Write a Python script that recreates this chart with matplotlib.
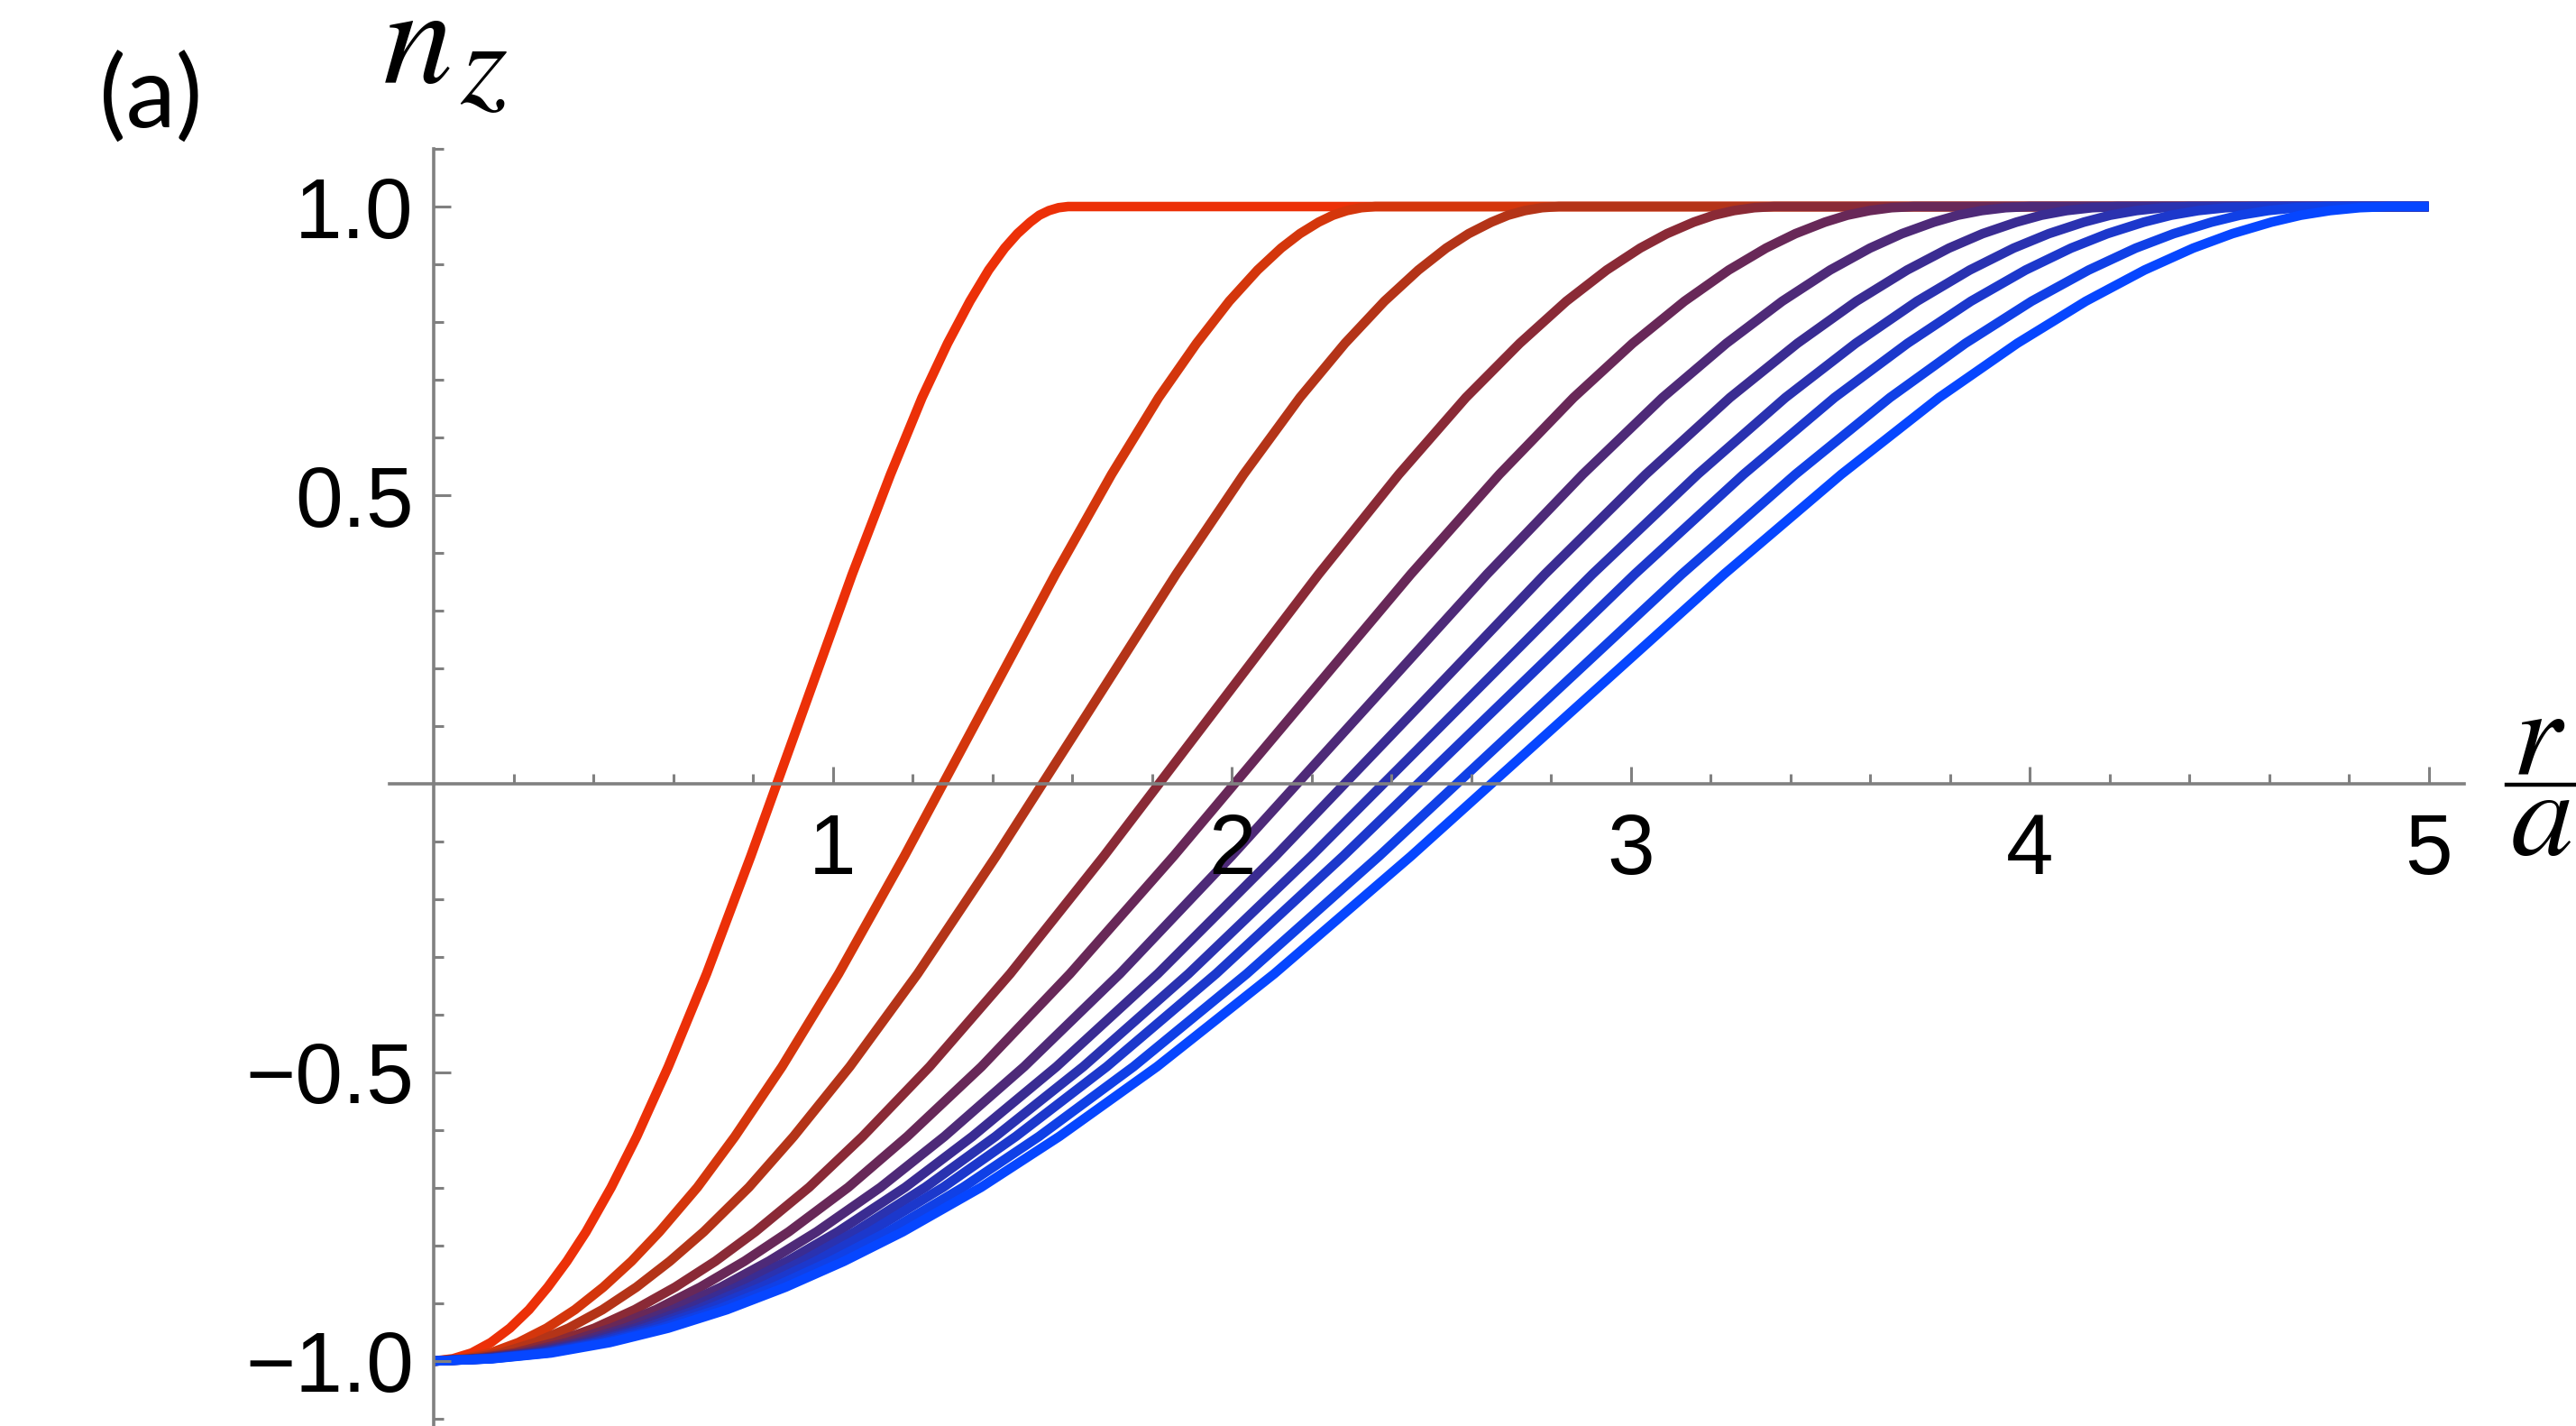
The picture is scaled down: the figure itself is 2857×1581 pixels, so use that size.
import matplotlib
matplotlib.use('Agg')
import matplotlib.pyplot as plt
from matplotlib.lines import Line2D
import numpy as np

nz_levels = [-1.0, -0.996, -0.986, -0.968, -0.943, -0.911, -0.872, -0.827,
             -0.776, -0.699, -0.611, -0.490, -0.329, -0.125, 0.119, 0.363,
             0.536, 0.669, 0.763, 0.836, 0.890, 0.928, 0.953, 0.973, 0.985,
             0.993, 0.998, 1.0]

# r/a where each curve passes those levels (red first, blue last)
r_c1 = [0, 0.048, 0.095, 0.143, 0.191, 0.239, 0.286, 0.334, 0.382, 0.445,
        0.509, 0.588, 0.684, 0.795, 0.922, 1.049, 1.145, 1.224, 1.288, 1.344,
        1.391, 1.431, 1.463, 1.495, 1.518, 1.542, 1.566, 1.590]
r_c2 = [0, 0.071, 0.142, 0.212, 0.283, 0.354, 0.425, 0.496, 0.566, 0.661,
        0.755, 0.873, 1.015, 1.180, 1.369, 1.558, 1.699, 1.817, 1.912, 1.994,
        2.065, 2.124, 2.171, 2.218, 2.254, 2.289, 2.325, 2.360]
r_c3 = [0, 0.085, 0.169, 0.254, 0.338, 0.423, 0.508, 0.592, 0.677, 0.790,
        0.902, 1.043, 1.213, 1.410, 1.636, 1.861, 2.030, 2.171, 2.284, 2.383,
        2.468, 2.538, 2.594, 2.651, 2.693, 2.735, 2.778, 2.820]
r_c4 = [0, 0.101, 0.202, 0.302, 0.403, 0.504, 0.605, 0.706, 0.806, 0.941,
        1.075, 1.243, 1.445, 1.680, 1.949, 2.218, 2.419, 2.587, 2.722, 2.839,
        2.940, 3.024, 3.091, 3.158, 3.209, 3.259, 3.310, 3.360]
r_c5 = [0, 0.111, 0.223, 0.334, 0.445, 0.557, 0.668, 0.779, 0.890, 1.039,
        1.187, 1.373, 1.595, 1.855, 2.152, 2.449, 2.671, 2.857, 3.005, 3.135,
        3.246, 3.339, 3.413, 3.487, 3.543, 3.599, 3.654, 3.710]
r_c6 = [0, 0.120, 0.240, 0.360, 0.480, 0.600, 0.720, 0.840, 0.960, 1.120,
        1.280, 1.480, 1.720, 2.000, 2.320, 2.640, 2.880, 3.080, 3.240, 3.380,
        3.500, 3.600, 3.680, 3.760, 3.820, 3.880, 3.940, 4.000]
r_c7 = [0, 0.127, 0.253, 0.380, 0.506, 0.633, 0.760, 0.886, 1.013, 1.182,
        1.350, 1.561, 1.815, 2.110, 2.448, 2.785, 3.038, 3.249, 3.418, 3.566,
        3.693, 3.798, 3.882, 3.967, 4.030, 4.093, 4.157, 4.220]
r_c8 = [0, 0.132, 0.264, 0.396, 0.528, 0.660, 0.792, 0.924, 1.056, 1.232,
        1.408, 1.628, 1.892, 2.200, 2.552, 2.904, 3.168, 3.388, 3.564, 3.718,
        3.850, 3.960, 4.048, 4.136, 4.202, 4.268, 4.334, 4.400]
r_c9 = [0, 0.137, 0.274, 0.410, 0.547, 0.684, 0.821, 0.958, 1.094, 1.277,
        1.459, 1.687, 1.961, 2.280, 2.645, 3.010, 3.283, 3.511, 3.694, 3.853,
        3.990, 4.104, 4.195, 4.286, 4.355, 4.423, 4.492, 4.560]
r_c10 = [0, 0.142, 0.284, 0.427, 0.569, 0.711, 0.853, 0.995, 1.138, 1.327,
         1.517, 1.754, 2.038, 2.370, 2.749, 3.128, 3.413, 3.650, 3.839, 4.005,
         4.148, 4.266, 4.361, 4.456, 4.527, 4.598, 4.669, 4.740]
r_c11 = [0, 0.147, 0.294, 0.441, 0.588, 0.735, 0.882, 1.029, 1.176, 1.372,
         1.568, 1.813, 2.107, 2.450, 2.842, 3.234, 3.528, 3.773, 3.969, 4.141,
         4.288, 4.410, 4.508, 4.606, 4.680, 4.753, 4.827, 4.900]
curves = [r_c1, r_c2, r_c3, r_c4, r_c5, r_c6, r_c7, r_c8, r_c9, r_c10, r_c11]

# after reaching 1 every curve stays flat up to the end of the range
r_end = 5.0
nz_end = 1.0

x_ticks = [1, 2, 3, 4, 5]
x_ticklabels = ['1', '2', '3', '4', '5']
y_ticks = [-1.0, -0.5, 0.5, 1.0]
y_ticklabels = ['\u22121.0', '\u22120.5', '0.5', '1.0']

colors = ['#ec3008', '#d4360c', '#b43418', '#8a2a36', '#682858', '#4e2a78',
          '#3a2c92', '#2a32b0', '#1c38cc', '#1040e6', '#0646ff']

W, H, DPI = 2857, 1581, 200
X0, XU = 481, 442.5      # pixel of r=0 and pixels per unit
Y0, YU = 869, 640        # pixel row of n_z=0 and pixels per unit

plt.rcParams['mathtext.fontset'] = 'stix'

fig = plt.figure(figsize=(W / DPI, H / DPI), dpi=DPI)
ax = fig.add_axes([0, 0, 1, 1])
ax.set_xlim(-X0 / XU, (W - X0) / XU)
ax.set_ylim((Y0 - H) / YU, Y0 / YU)
ax.patch.set_alpha(0)

for r_c, col in zip(curves, colors):
    ax.plot(r_c + [r_end], nz_levels + [nz_end], color=col, lw=3.8,
            solid_joinstyle='round', solid_capstyle='butt', zorder=2)

# Mathematica style axes crossing at the origin
axis_col = '#808080'
for side in ('top', 'right'):
    ax.spines[side].set_visible(False)
ax.spines['left'].set_position(('data', 0))
ax.spines['bottom'].set_position(('data', 0))
ax.spines['bottom'].set_bounds(-0.11, 5.09)
ax.spines['left'].set_bounds(-1.2, 1.1)
for side in ('left', 'bottom'):
    ax.spines[side].set_color(axis_col)
    ax.spines[side].set_linewidth(1.3)
ax.set_axisbelow(False)

ax.set_xticks(x_ticks)
ax.set_xticklabels(x_ticklabels)
ax.set_yticks(y_ticks)
ax.set_yticklabels(y_ticklabels)
x_minor = [v for v in np.round(np.arange(0.2, 5.0, 0.2), 2) if v not in x_ticks]
y_minor = [v for v in np.round(np.arange(-1.1, 1.15, 0.1), 2)
           if v not in y_ticks and v != 0]
ax.set_xticks(x_minor, minor=True)
ax.set_yticks(y_minor, minor=True)

ax.tick_params(which='both', direction='in', color=axis_col, width=1.1)
ax.tick_params(which='major', length=7)
ax.tick_params(which='minor', length=4)
ax.tick_params(axis='x', which='major', pad=11)
ax.tick_params(axis='y', which='major', pad=8)
for lab in ax.get_xticklabels() + ax.get_yticklabels():
    lab.set_fontfamily('Liberation Sans')
    lab.set_fontsize(34)

# panel tag and axis labels
fig.text(110 / W, 1 - 142 / H, '(a)', fontsize=40, family='Lato',
         ha='left', va='baseline')
# n_z: the subscript is drawn almost as large as the n, as in the original
fig.text(424 / W, 1 - 92 / H, r'$n$', fontsize=56, ha='left', va='baseline')
fig.text(510 / W, 1 - 114 / H, r'$z$', fontsize=48, ha='left', va='baseline')
fig.text(2816 / W, 1 - 858 / H, r'$r$', fontsize=50, ha='center', va='baseline')
fig.text(2818 / W, 1 - 948 / H, r'$a$', fontsize=50, ha='center', va='baseline')
fig.add_artist(Line2D([2780 / W, 1.0], [1 - 870 / H, 1 - 870 / H],
                      color='black', lw=1.6))

fig.savefig('out.png', dpi=DPI, facecolor='white')
